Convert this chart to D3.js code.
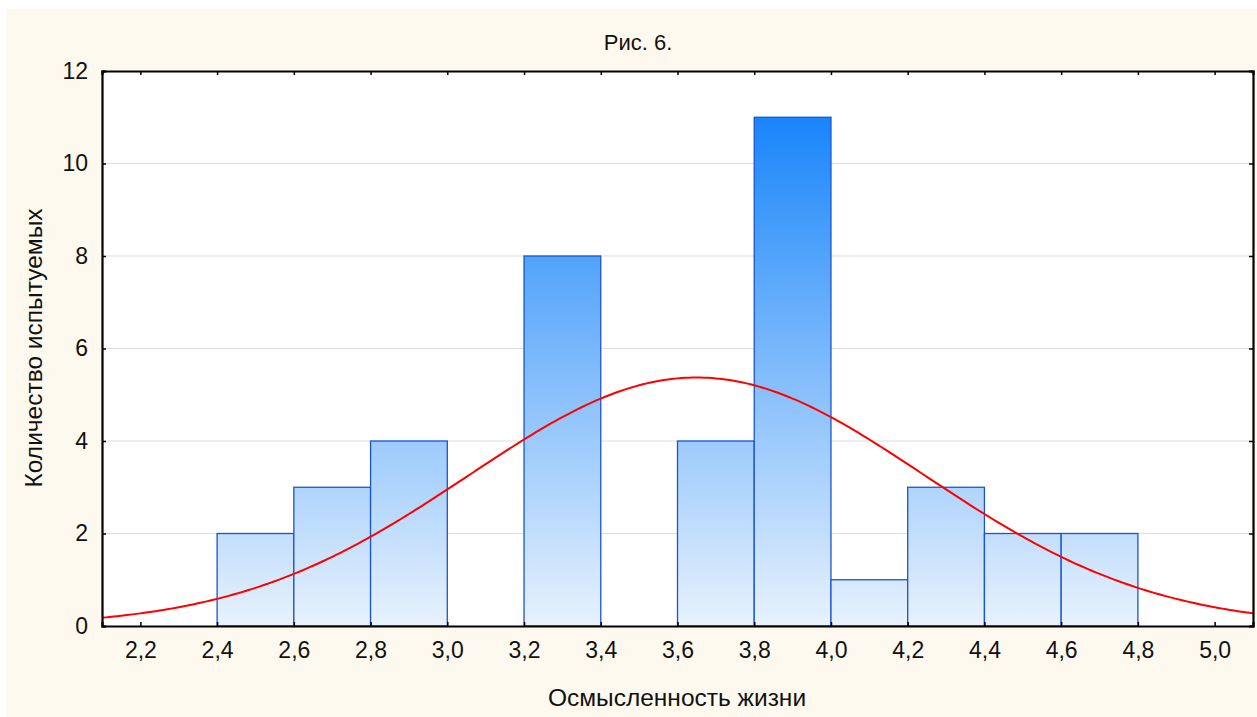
<!DOCTYPE html>
<html lang="ru">
<head>
<meta charset="utf-8">
<title>Рис. 6.</title>
<script src="https://d3js.org/d3.v7.min.js"></script>
<style>
  body { margin: 0; background: #ffffff; }
  text { font-family: "Liberation Sans", Arial, sans-serif; fill: #111; }
</style>
</head>
<body>
<script>
// bins (left edges) and counts
var binStarts = [2.2, 2.4, 2.6, 2.8, 3.0, 3.2, 3.4, 3.6, 3.8, 4.0, 4.2, 4.4, 4.6];
var counts    = [0,   2,   3,   4,   0,   8,   0,   4,   11,  1,   3,   2,   2];
var binWidth = 0.2;
var xTicks = [2.2, 2.4, 2.6, 2.8, 3.0, 3.2, 3.4, 3.6, 3.8, 4.0, 4.2, 4.4, 4.6, 4.8, 5.0];
var yTicks = [0, 2, 4, 6, 8, 10, 12];
// fitted normal curve parameters
var fitMean = 3.65, fitSd = 0.594, nObs = 40;

var w = 1257, h = 717;
var margin = {top: 71, right: 4, bottom: 91, left: 102};

var svg = d3.select("body").append("svg")
  .attr("width", w).attr("height", h);

svg.append("rect").attr("x", 6).attr("y", 9)
  .attr("width", w - 6).attr("height", h - 9).attr("fill", "#fef9ee");

var x = d3.scaleLinear().domain([2.1, 5.1]).range([margin.left, w - margin.right]);
var y = d3.scaleLinear().domain([0, 12]).range([h - margin.bottom, margin.top]);

svg.append("rect")
  .attr("x", x(2.1)).attr("y", y(12))
  .attr("width", x(5.1) - x(2.1)).attr("height", y(0) - y(12))
  .attr("fill", "#ffffff");

// gradient
var grad = svg.append("defs").append("linearGradient")
  .attr("id", "barGrad").attr("gradientUnits", "userSpaceOnUse")
  .attr("x1", 0).attr("x2", 0).attr("y1", y(0)).attr("y2", y(11));
grad.append("stop").attr("offset", "0%").attr("stop-color", "#e8f2fd");
grad.append("stop").attr("offset", "100%").attr("stop-color", "#1985fa");

// gridlines
svg.append("g").selectAll("line").data(yTicks.slice(1, -1)).enter().append("line")
  .attr("x1", x(2.1)).attr("x2", x(5.1))
  .attr("y1", d => y(d)).attr("y2", d => y(d))
  .attr("stroke", "#dcdcdc").attr("stroke-width", 1);

// bars
svg.append("g").selectAll("rect").data(binStarts).enter().append("rect")
  .attr("x", d => x(d))
  .attr("y", (d, i) => y(counts[i]))
  .attr("width", d => x(d + binWidth) - x(d))
  .attr("height", (d, i) => y(0) - y(counts[i]))
  .attr("fill", "url(#barGrad)")
  .attr("stroke", "#1a55d0").attr("stroke-width", 1.3);

// normal curve
var curveX = d3.range(2.1, 5.1001, 0.01);
var line = d3.line()
  .x(d => x(d))
  .y(d => y(nObs * binWidth / (fitSd * Math.sqrt(2 * Math.PI)) *
             Math.exp(-0.5 * Math.pow((d - fitMean) / fitSd, 2))));
svg.append("path").datum(curveX)
  .attr("d", line).attr("fill", "none")
  .attr("stroke", "#ff0000").attr("stroke-width", 2);

// axes
var xAxis = svg.append("g").attr("transform", `translate(0,${y(0)})`)
  .call(d3.axisBottom(x).tickValues(xTicks).tickSize(-4).tickPadding(16)
    .tickFormat(d => d3.format(".1f")(d).replace(".", ",")));
var xTop = svg.append("g").attr("transform", `translate(0,${y(12)})`)
  .call(d3.axisTop(x).tickValues(xTicks).tickSize(-4).tickFormat(""));
var yAxis = svg.append("g").attr("transform", `translate(${x(2.1)},0)`)
  .call(d3.axisLeft(y).tickValues(yTicks).tickSize(-4).tickPadding(14));
var yRight = svg.append("g").attr("transform", `translate(${x(5.1)},0)`)
  .call(d3.axisRight(y).tickValues(yTicks).tickSize(-4).tickFormat(""));

[xAxis, xTop, yAxis, yRight].forEach(function(g) {
  g.select(".domain").attr("stroke", "#000").attr("stroke-width", 2.2);
  g.selectAll(".tick line").attr("stroke", "#000").attr("stroke-width", 1.5);
  g.selectAll(".tick text").style("font-size", "23px")
    .style("font-family", "Liberation Sans, Arial, sans-serif").attr("fill", "#111");
});

// titles
svg.append("text").attr("x", 638).attr("y", 50)
  .attr("text-anchor", "middle").style("font-size", "22px").text("Рис. 6.");
svg.append("text").attr("x", 677).attr("y", 706)
  .attr("text-anchor", "middle").style("font-size", "24.5px").text("Осмысленность жизни");
svg.append("text").attr("transform", "translate(42,348) rotate(-90)")
  .attr("text-anchor", "middle").style("font-size", "24.5px").text("Количество испытуемых");
</script>
</body>
</html>
